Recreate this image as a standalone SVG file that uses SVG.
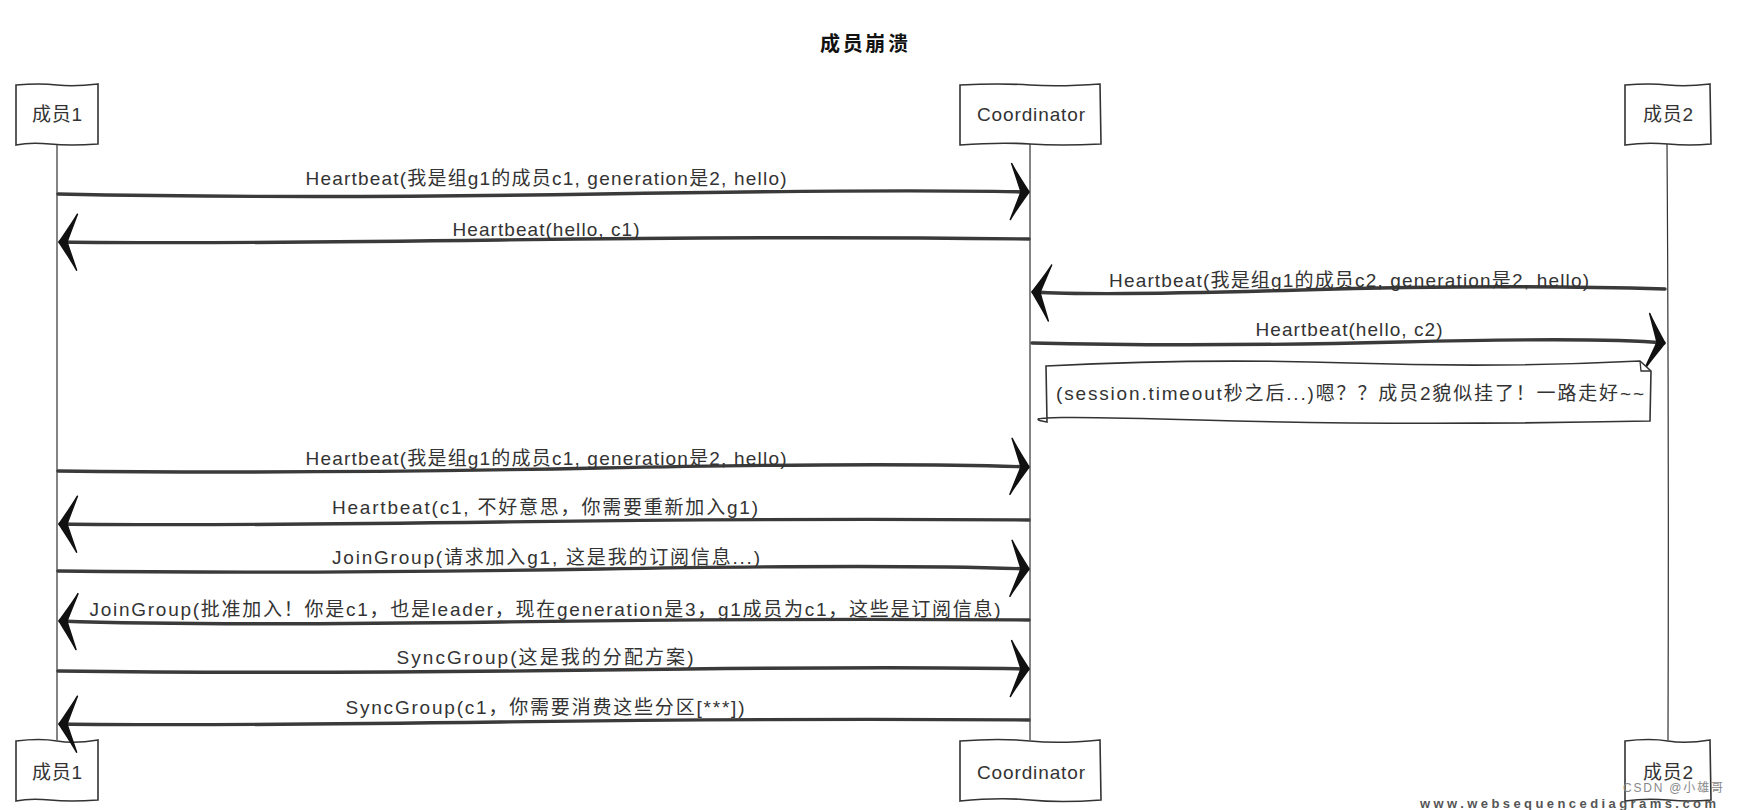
<svg xmlns="http://www.w3.org/2000/svg" width="1738" height="810" viewBox="0 0 1738 810">
<style>
text{font-family:"Liberation Sans","Noto Sans CJK SC",sans-serif;fill:#333}
.lbl{font-size:19px;text-anchor:middle}
.box{fill:#fff;stroke:#333;stroke-width:1.6}
.life{fill:none;stroke:#333;stroke-width:1.2}
.msg{fill:none;stroke:#3a3a3a;stroke-width:3.4;stroke-linecap:round}
.node{font-size:19px;text-anchor:middle}
</style>
<defs>
<marker id="head" viewBox="-24 -30 28 60" refX="0" refY="0" markerWidth="28" markerHeight="60" markerUnits="userSpaceOnUse" orient="auto">
<path d="M1,0 C-5,-9 -12,-19 -17,-28 C-12,-14 -9,-6 -7,0 C-9,6 -12,14 -17,28 C-12,19 -5,9 1,0 Z" fill="#111" stroke="#111" stroke-width="1.5" stroke-linejoin="round"/>
</marker>
</defs>
<rect width="1738" height="810" fill="#fff"/>
<text x="864" y="51" font-size="20" font-weight="bold" text-anchor="middle" textLength="88" style="fill:#111">成员崩溃</text>
<g id="lifelines">
<path class="life" d="M57,144 Q56,440 57,740"/>
<path class="life" d="M1030,144 Q1031,440 1030,740"/>
<path class="life" d="M1667,144 Q1669,440 1668,740"/>
</g>
<g id="node-m1-top"><path class="box" d="M16,85 Q40,83 57,85 T98,84 L98,144 Q70,146 50,144 T16,145 Z"/><text class="node" x="57" y="121" textLength="50">成员1</text></g>
<g id="node-coord-top"><path class="box" d="M960,85 Q1000,83 1030,85 T1100,84 L1101,144 Q1060,146 1030,144 T960,145 Z"/><text class="node" x="1031" y="121" textLength="108">Coordinator</text></g>
<g id="node-m2-top"><path class="box" d="M1625,85 Q1650,83 1668,85 T1710,84 L1711,144 Q1690,146 1668,144 T1625,145 Z"/><text class="node" x="1668" y="121" textLength="50">成员2</text></g>
<g id="node-m1-bottom"><path class="box" d="M16,741 Q40,738 57,741 T98,740 L98,800 Q70,802 50,800 T16,801 Z"/><text class="node" x="57" y="779" textLength="50">成员1</text></g>
<g id="node-coord-bottom"><path class="box" d="M960,741 Q1000,738 1030,741 T1100,740 L1101,800 Q1060,803 1030,800 T960,801 Z"/><text class="node" x="1031" y="779" textLength="108">Coordinator</text></g>
<g id="node-m2-bottom"><path class="box" d="M1625,741 Q1650,738 1668,741 T1710,740 L1711,800 Q1690,802 1668,800 T1625,801 Z"/><text class="node" x="1668" y="779" textLength="50">成员2</text></g>
<g id="connectors">
<path class="msg" marker-end="url(#head)" d="M58,194 Q300,199 600,194 T1028,192"/>
<path class="msg" marker-end="url(#head)" d="M1029,239 Q800,236 500,240 T60,242"/>
<path class="msg" marker-end="url(#head)" d="M1665,289 Q1500,284 1300,290 T1033,292"/>
<path class="msg" marker-end="url(#head)" d="M1032,343 Q1200,347 1400,342 T1664,343"/>
<path class="msg" marker-end="url(#head)" d="M58,471 Q300,474 600,468 T1028,467"/>
<path class="msg" marker-end="url(#head)" d="M1029,520 Q800,518 500,522 T60,524"/>
<path class="msg" marker-end="url(#head)" d="M58,571 Q300,574 600,569 T1028,569"/>
<path class="msg" marker-end="url(#head)" d="M1029,620 Q800,618 500,622 T60,621"/>
<path class="msg" marker-end="url(#head)" d="M58,671 Q300,674 600,670 T1028,669"/>
<path class="msg" marker-end="url(#head)" d="M1029,720 Q800,718 500,722 T60,724"/>
</g>
<g id="labels">
<text class="lbl" x="546" y="185" textLength="481">Heartbeat(我是组g1的成员c1, generation是2, hello)</text>
<text class="lbl" x="546" y="236" textLength="187">Heartbeat(hello, c1)</text>
<text class="lbl" x="1349" y="287" textLength="480">Heartbeat(我是组g1的成员c2, generation是2, hello)</text>
<text class="lbl" x="1349" y="336" textLength="187">Heartbeat(hello, c2)</text>
<text class="lbl" x="546" y="465" textLength="481">Heartbeat(我是组g1的成员c1, generation是2, hello)</text>
<text class="lbl" x="545" y="514" textLength="426">Heartbeat(c1, 不好意思，你需要重新加入g1)</text>
<text class="lbl" x="546" y="564" textLength="428">JoinGroup(请求加入g1, 这是我的订阅信息...)</text>
<text class="lbl" x="545" y="616" textLength="911">JoinGroup(批准加入！你是c1，也是leader，现在generation是3，g1成员为c1，这些是订阅信息)</text>
<text class="lbl" x="545" y="664" textLength="297">SyncGroup(这是我的分配方案)</text>
<text class="lbl" x="545" y="714" textLength="399">SyncGroup(c1，你需要消费这些分区[***])</text>
</g>
<g id="note">
<path class="box" d="M1046,366 Q1200,358 1350,363 T1640,361 L1651,371 L1650,421 Q1400,426 1200,420 T1047,422 Z"/>
<path fill="none" stroke="#333" stroke-width="1.3" d="M1640,361 L1641,371 L1651,371"/>
<text class="lbl" x="1350" y="400" textLength="588">(session.timeout秒之后...)嗯？？成员2貌似挂了！一路走好~~</text>
</g>
<text x="1723" y="792" font-size="12" text-anchor="end" textLength="100" style="fill:#888">CSDN @小雄哥</text>
<text x="1420" y="808" font-size="13" font-weight="bold" textLength="296" style="fill:#555">www.websequencediagrams.com</text>
</svg>
